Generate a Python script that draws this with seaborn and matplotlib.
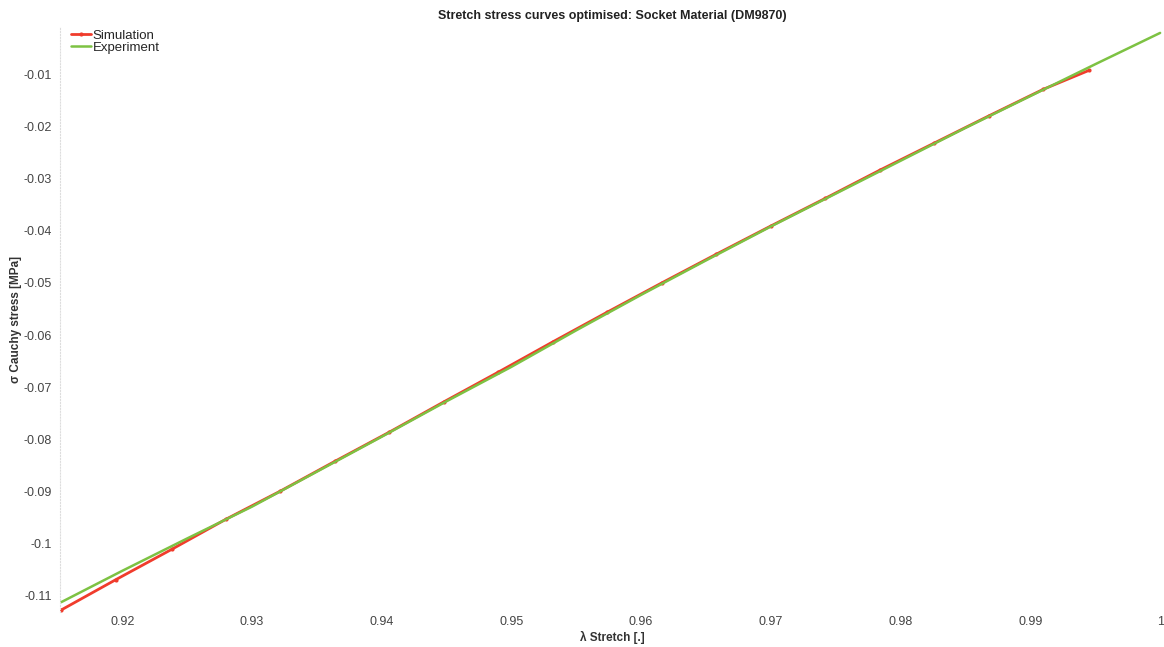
import matplotlib
matplotlib.use('Agg')
import matplotlib.pyplot as plt
import seaborn as sns
import pandas as pd

# Experiment curve
exp_stretch = [0.9153, 0.920, 0.925, 0.930, 0.935, 0.940, 0.945, 0.950, 0.955,
               0.960, 0.965, 0.970, 0.975, 0.980, 0.985, 0.990, 0.995, 1.000]
exp_stress = [-0.1112, -0.1052, -0.0990, -0.0929, -0.0862, -0.0795, -0.0727, -0.0661, -0.0591,
              -0.0523, -0.0457, -0.0392, -0.0329, -0.0266, -0.0203, -0.0142, -0.0081, -0.0021]

# Simulation curve
sim_stretch = [0.9153, 0.9195, 0.9238, 0.928, 0.9322, 0.9364, 0.9406, 0.9448, 0.949, 0.9532,
               0.9574, 0.9616, 0.9658, 0.970, 0.9742, 0.9784, 0.9826, 0.9868, 0.991, 0.9945]
sim_stress = [-0.1127, -0.1069, -0.1011, -0.0953, -0.0899, -0.0842, -0.0786, -0.0728, -0.0671, -0.0613,
              -0.0556, -0.0500, -0.0445, -0.0391, -0.0338, -0.0284, -0.0232, -0.0180, -0.0129, -0.0093]

x_ticks = [0.92, 0.93, 0.94, 0.95, 0.96, 0.97, 0.98, 0.99, 1.0]
x_tick_labels = ['0.92', '0.93', '0.94', '0.95', '0.96', '0.97', '0.98', '0.99', '1']
y_ticks = [-0.11, -0.1, -0.09, -0.08, -0.07, -0.06, -0.05, -0.04, -0.03, -0.02, -0.01]
y_tick_labels = ['-0.11', '-0.1', '-0.09', '-0.08', '-0.07', '-0.06', '-0.05', '-0.04', '-0.03', '-0.02', '-0.01']

sim_df = pd.DataFrame({'stretch': sim_stretch, 'stress': sim_stress})
exp_df = pd.DataFrame({'stretch': exp_stretch, 'stress': exp_stress})

sns.set_style('white')
plt.rcParams['font.family'] = ['Liberation Sans', 'DejaVu Sans']

fig = plt.figure(figsize=(11.64, 6.47), dpi=100)
ax = fig.add_axes([0.0515, 0.054, 0.9485, 0.904])

sns.lineplot(data=sim_df, x='stretch', y='stress', ax=ax, color='#f03c2c', linewidth=2.0,
             marker='o', markersize=3, markeredgewidth=0, label='Simulation')
sns.lineplot(data=exp_df, x='stretch', y='stress', ax=ax, color='#7dc243', linewidth=1.8,
             label='Experiment')

ax.set_xlim(0.9152, 1.0003)
ax.set_ylim(-0.1131, -0.001)
ax.set_xticks(x_ticks)
ax.set_xticklabels(x_tick_labels)
ax.set_yticks(y_ticks)
ax.set_yticklabels(y_tick_labels)
ax.tick_params(axis='both', labelsize=9, colors='#444444', length=3, width=0.6, pad=3)
ax.tick_params(axis='x', pad=3, length=0)

for s in ['top', 'right', 'bottom']:
    ax.spines[s].set_visible(False)
ax.spines['left'].set_color('#dddddd')
ax.spines['left'].set_linestyle(':')

ax.set_xlabel('λ Stretch [.]', fontsize=8.5, fontweight='bold', color='#333333', labelpad=2)
ax.set_ylabel('σ Cauchy stress [MPa]', fontsize=8.5, fontweight='bold', color='#333333', labelpad=1)
ax.set_title('Stretch stress curves optimised: Socket Material (DM9870)', fontsize=9,
             fontweight='bold', color='#222222', pad=6)

ax.legend(loc='upper left', bbox_to_anchor=(0.002, 1.012), frameon=False, fontsize=9.5,
          handlelength=1.5, handletextpad=0.1, labelspacing=0.0, borderpad=0.2)

fig.savefig('out.png', dpi=100)
